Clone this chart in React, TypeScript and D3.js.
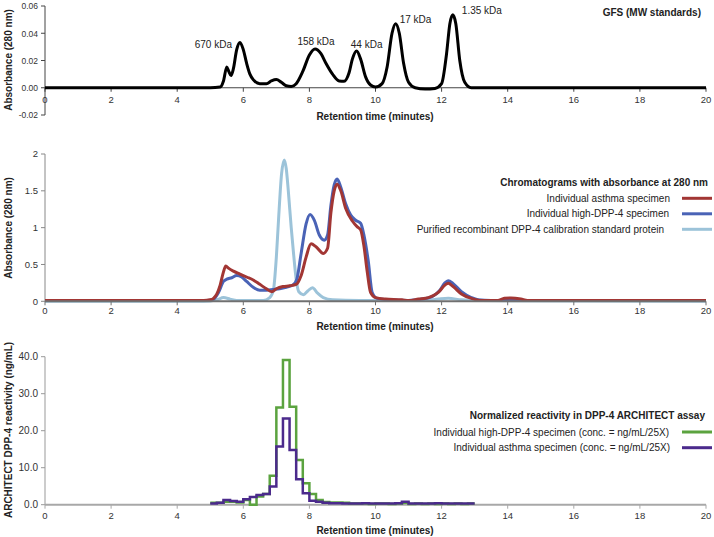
import React from 'react';
import * as d3 from 'd3';

// ---------- data ----------
const retentionTicks = [0, 2, 4, 6, 8, 10, 12, 14, 16, 18, 20];
const topTicks = [-0.02, 0, 0.02, 0.04, 0.06];
const midTicks = [0, 0.5, 1, 1.5, 2];
const botTicks = [0, 10, 20, 30, 40];

// GFS molecular weight standards (time min, absorbance)
const gfsStandards: [number, number][] = [
  [0, 0], [5.0, 0], [5.3, 0.0005], [5.4, 0.005], [5.5, 0.0153], [5.56, 0.012], [5.63, 0.009],
  [5.7, 0.014], [5.8, 0.028], [5.9, 0.0333], [6.0, 0.028], [6.1, 0.018], [6.2, 0.010],
  [6.3, 0.006], [6.5, 0.003], [6.7, 0.003], [6.85, 0.005], [7.0, 0.006], [7.15, 0.004],
  [7.3, 0.0015], [7.45, 0.001], [7.6, 0.003], [7.8, 0.012], [8.0, 0.024], [8.17, 0.0284],
  [8.35, 0.025], [8.5, 0.018], [8.7, 0.010], [8.9, 0.005], [9.05, 0.0048], [9.2, 0.011],
  [9.3, 0.021], [9.43, 0.027], [9.55, 0.021], [9.7, 0.008], [9.85, 0.002], [10.0, 0.0005],
  [10.2, 0.003], [10.35, 0.015], [10.5, 0.040], [10.61, 0.047], [10.72, 0.040], [10.85, 0.018],
  [11.0, 0.004], [11.2, 0.0], [11.5, -0.001], [11.8, -0.0005], [12.0, 0.003], [12.15, 0.025],
  [12.25, 0.047], [12.34, 0.0535], [12.43, 0.047], [12.55, 0.020], [12.7, 0.004], [12.9, 0],
  [14, 0], [20, 0],
];
const gfsPeakLabels = ['670 kDa', '158 kDa', '44 kDa', '17 kDa', '1.35 kDa'];
const gfsPeakTimes = [5.9, 8.17, 9.43, 10.61, 12.34];
const gfsPeakValues = [0.0333, 0.0284, 0.027, 0.047, 0.0535];

const asthmaAbs: [number, number][] = [
  [0, 0.01], [4.8, 0.01], [5.0, 0.02], [5.1, 0.04], [5.2, 0.1], [5.3, 0.22], [5.4, 0.4],
  [5.47, 0.48], [5.55, 0.45], [5.7, 0.41], [5.9, 0.37], [6.1, 0.33], [6.3, 0.29], [6.5, 0.23],
  [6.7, 0.17], [6.86, 0.13], [7.0, 0.17], [7.2, 0.2], [7.4, 0.21], [7.6, 0.23], [7.75, 0.35],
  [7.9, 0.6], [8.05, 0.78], [8.2, 0.74], [8.42, 0.65], [8.55, 0.72], [8.65, 1.2], [8.75, 1.5],
  [8.84, 1.59], [8.95, 1.5], [9.1, 1.26], [9.3, 1.09], [9.45, 1.01], [9.55, 0.97], [9.65, 0.75],
  [9.75, 0.4], [9.85, 0.12], [10.0, 0.05], [10.3, 0.03], [10.8, 0.02], [11.0, 0.01], [11.3, 0.03],
  [11.6, 0.05], [11.9, 0.12], [12.1, 0.22], [12.2, 0.245], [12.35, 0.2], [12.6, 0.1],
  [12.9, 0.04], [13.2, 0.01], [13.7, 0.01], [13.9, 0.04], [14.1, 0.045], [14.4, 0.03],
  [14.6, 0.01], [16.5, 0.01], [20, 0.01],
];
const highDpp4Abs: [number, number][] = [
  [0, 0.01], [4.9, 0.01], [5.1, 0.03], [5.25, 0.12], [5.4, 0.27], [5.5, 0.3], [5.65, 0.32],
  [5.8, 0.35], [5.95, 0.33], [6.1, 0.27], [6.3, 0.19], [6.5, 0.15], [6.7, 0.15], [6.9, 0.16],
  [7.1, 0.17], [7.3, 0.19], [7.5, 0.22], [7.62, 0.3], [7.75, 0.65], [7.9, 1.05], [8.02, 1.18],
  [8.15, 1.1], [8.3, 0.9], [8.45, 0.83], [8.55, 0.9], [8.65, 1.3], [8.75, 1.58], [8.84, 1.66],
  [8.95, 1.55], [9.1, 1.32], [9.25, 1.17], [9.4, 1.1], [9.55, 1.06], [9.65, 0.9], [9.78, 0.55],
  [9.9, 0.12], [10.05, 0.04], [10.4, 0.02], [11.0, 0.01], [11.4, 0.03], [11.7, 0.06],
  [11.95, 0.15], [12.1, 0.25], [12.2, 0.28], [12.35, 0.24], [12.6, 0.13], [12.9, 0.05],
  [13.1, 0.02], [13.5, 0.01], [20, 0.01],
];
const calibratorAbs: [number, number][] = [
  [0, 0], [4.8, 0], [5.2, 0.02], [5.4, 0.05], [5.6, 0.03], [5.8, 0.01], [6.6, 0.01], [6.8, 0.05],
  [6.91, 0.15], [7.0, 0.6], [7.06, 1.06], [7.16, 1.74], [7.24, 1.92], [7.3, 1.8], [7.36, 1.51],
  [7.45, 1.0], [7.51, 0.7], [7.6, 0.3], [7.68, 0.13], [7.82, 0.09], [7.95, 0.14], [8.09, 0.185],
  [8.25, 0.11], [8.42, 0.05], [8.7, 0.02], [9.5, 0.01], [11.5, 0.01], [11.9, 0.03], [12.2, 0.04],
  [12.6, 0.02], [13.2, 0.01], [20, 0],
];

// ARCHITECT fractions (bin start minutes, 0.2 min fractions from 5.0 to 13.0)
const fractionStarts = [
  5.0, 5.2, 5.4, 5.6, 5.8, 6.0, 6.2, 6.4, 6.6, 6.8, 7.0, 7.2, 7.4, 7.6, 7.8, 8.0, 8.2, 8.4, 8.6, 8.8,
  9.0, 9.2, 9.4, 9.6, 9.8, 10.0, 10.2, 10.4, 10.6, 10.8, 11.0, 11.2, 11.4, 11.6, 11.8, 12.0, 12.2, 12.4, 12.6, 12.8,
];
const fractionEnd = 13.0;
const highDpp4Reactivity = [
  0.5, 0.5, 0.8, 0.8, 0.6, 1.3, 0.0, 2.2, 2.9, 7.8, 26.3, 39.1, 26.5, 12.1, 5.8, 2.9, 1.3, 0.7, 0.6, 0.6,
  0.5, 0.3, 0.3, 0.3, 0.2, 0.3, 0.3, 0.2, 0.3, 0.5, 0.2, 0.3, 0.2, 0.3, 0.2, 0.3, 0.2, 0.3, 0.2, 0.3,
];
const asthmaReactivity = [
  0.3, 0.5, 1.3, 1.0, 0.8, 1.5, 2.1, 2.6, 2.9, 4.9, 15.7, 23.3, 14.8, 6.9, 3.1, 1.1, 0.8, 0.5, 0.4, 0.4,
  0.3, 0.3, 0.3, 0.4, 0.3, 0.3, 0.3, 0.3, 0.4, 0.8, 0.3, 0.3, 0.3, 0.3, 0.4, 0.3, 0.3, 0.3, 0.3, 0.3,
];

const midLegend = ['Individual asthma specimen', 'Individual high-DPP-4 specimen', 'Purified recombinant DPP-4 calibration standard protein'];
const botLegend = ['Individual high-DPP-4 specimen (conc. = ng/mL/25X)', 'Individual asthma specimen (conc. = ng/mL/25X)'];

// ---------- styling ----------
const FONT = 'Liberation Sans, Arial, sans-serif';
const RED = '#a23634';
const BLUE = '#4a63b6';
const LIGHT = '#9cc3d9';
const GREEN = '#5ba33f';
const PURPLE = '#4b2a8c';

const x = d3.scaleLinear().domain([0, 20]).range([45, 706]);
const yTop = d3.scaleLinear().domain([-0.02, 0.06]).range([115, 6]);
const yMid = d3.scaleLinear().domain([0, 2]).range([301.3, 154]);
const yBot = d3.scaleLinear().domain([0, 40]).range([504.7, 356.7]);

function XAxis({ y0, labelY, titleY, color, width }: { y0: number; labelY: number; titleY: number; color: string; width: number }) {
  return (
    <g>
      <line x1={x(0)} x2={x(20)} y1={y0} y2={y0} stroke={color} strokeWidth={width} />
      {retentionTicks.map((t) => (
        <g key={t}>
          <line x1={x(t)} x2={x(t)} y1={y0} y2={y0 + 4} stroke={color} strokeWidth={1} />
          <text x={x(t)} y={labelY} textAnchor="middle" fontSize={9.5} fill="#333">{t}</text>
        </g>
      ))}
      <text x={375} y={titleY} textAnchor="middle" fontSize={10} fontWeight="bold" fill="#222">Retention time (minutes)</text>
    </g>
  );
}

function YAxis({ scale, ticks, fmt, color, fontSize, title, titleCenter }: any) {
  const [r0, r1] = scale.range();
  return (
    <g>
      <line x1={45} x2={45} y1={r0} y2={r1} stroke={color} strokeWidth={1} />
      {ticks.map((t: number) => (
        <g key={t}>
          <line x1={41} x2={45} y1={scale(t)} y2={scale(t)} stroke={color} strokeWidth={1} />
          <text x={38} y={scale(t) + 3.3} textAnchor="end" fontSize={fontSize} fill="#333">{fmt(t)}</text>
        </g>
      ))}
      <text transform={`translate(12,${titleCenter}) rotate(-90)`} textAnchor="middle" fontSize={10} fontWeight="bold" fill="#222">{title}</text>
    </g>
  );
}

export default function App() {
  const lineTop = d3.line<[number, number]>().x((d) => x(d[0])).y((d) => yTop(d[1])).curve(d3.curveMonotoneX);
  const lineMid = d3.line<[number, number]>().x((d) => x(d[0])).y((d) => yMid(d[1])).curve(d3.curveMonotoneX);
  const stepBot = d3.line<[number, number]>().x((d) => x(d[0])).y((d) => yBot(d[1])).curve(d3.curveStepAfter);
  const steps = (vals: number[]): [number, number][] => [
    ...fractionStarts.map((t, i) => [t, vals[i]] as [number, number]),
    [fractionEnd, vals[vals.length - 1]],
  ];
  const labelOffsets: [number, number, string][] = [
    [-8, 6, 'end'], [1, -4.5, 'middle'], [10, -3, 'middle'], [4, -1, 'start'], [9, -1, 'start'],
  ];

  return (
    <svg width={714} height={537} style={{ position: 'absolute', left: 0, top: 0, fontFamily: FONT }}>
      <rect width={714} height={537} fill="#fff" />
      {/* ---------- top panel ---------- */}
      <YAxis scale={yTop} ticks={topTicks} fmt={(v: number) => v.toFixed(2)} color="#444" fontSize={8.5} title="Absorbance (280 nm)" titleCenter={60} />
      <XAxis y0={yTop(0)} labelY={yTop(0) + 15.5} titleY={120} color="#444" width={1} />
      <path d={lineTop(gfsStandards) || ''} fill="none" stroke="#000" strokeWidth={3} strokeLinejoin="round" />
      {gfsPeakLabels.map((lab, i) => (
        <text key={lab} x={x(gfsPeakTimes[i]) + labelOffsets[i][0]} y={yTop(gfsPeakValues[i]) + labelOffsets[i][1]}
          textAnchor={labelOffsets[i][2] as any} fontSize={10} fill="#222">{lab}</text>
      ))}
      <text x={701} y={16} textAnchor="end" fontSize={10} fontWeight="bold" fill="#222">GFS (MW standards)</text>

      {/* ---------- middle panel ---------- */}
      <YAxis scale={yMid} ticks={midTicks} fmt={(v: number) => String(v)} color="#888" fontSize={9.5} title="Absorbance (280 nm)" titleCenter={228} />
      <path d={lineMid(calibratorAbs) || ''} fill="none" stroke={LIGHT} strokeWidth={3} strokeLinejoin="round" />
      <path d={lineMid(highDpp4Abs) || ''} fill="none" stroke={BLUE} strokeWidth={3} strokeLinejoin="round" />
      <path d={lineMid(asthmaAbs) || ''} fill="none" stroke={RED} strokeWidth={3} strokeLinejoin="round" />
      <XAxis y0={yMid(0)} labelY={313.5} titleY={329.5} color="#707070" width={2} />
      <text x={708} y={186} textAnchor="end" fontSize={10} fontWeight="bold" fill="#222">Chromatograms with absorbance at 280 nm</text>
      {midLegend.map((lab, i) => {
        const cy = 198.3 + i * 15.5;
        const col = [RED, BLUE, LIGHT][i];
        const end = [670, 669, 664][i];
        return (
          <g key={lab}>
            <text x={end} y={cy + 3.5} textAnchor="end" fontSize={10} fill="#222">{lab}</text>
            <line x1={682} x2={712} y1={cy} y2={cy} stroke={col} strokeWidth={3} />
          </g>
        );
      })}

      {/* ---------- bottom panel ---------- */}
      <YAxis scale={yBot} ticks={botTicks} fmt={(v: number) => v.toFixed(1)} color="#999" fontSize={10} title="ARCHITECT DPP-4 reactivity (ng/mL)" titleCenter={430} />
      <XAxis y0={yBot(0)} labelY={518.5} titleY={533.5} color="#a8a8a8" width={2} />
      <path d={stepBot(steps(highDpp4Reactivity)) || ''} fill="none" stroke={GREEN} strokeWidth={2.5} />
      <path d={stepBot(steps(asthmaReactivity)) || ''} fill="none" stroke={PURPLE} strokeWidth={2.5} />
      <text x={705} y={419} textAnchor="end" fontSize={10} fontWeight="bold" fill="#222">Normalized reactivity in DPP-4 ARCHITECT assay</text>
      {botLegend.map((lab, i) => {
        const cy = 432 + i * 15.7;
        const col = [GREEN, PURPLE][i];
        const end = [669, 670][i];
        return (
          <g key={lab}>
            <text x={end} y={cy + 3.5} textAnchor="end" fontSize={10} fill="#222">{lab}</text>
            <line x1={682} x2={712} y1={cy} y2={cy} stroke={col} strokeWidth={3} />
          </g>
        );
      })}
    </svg>
  );
}
